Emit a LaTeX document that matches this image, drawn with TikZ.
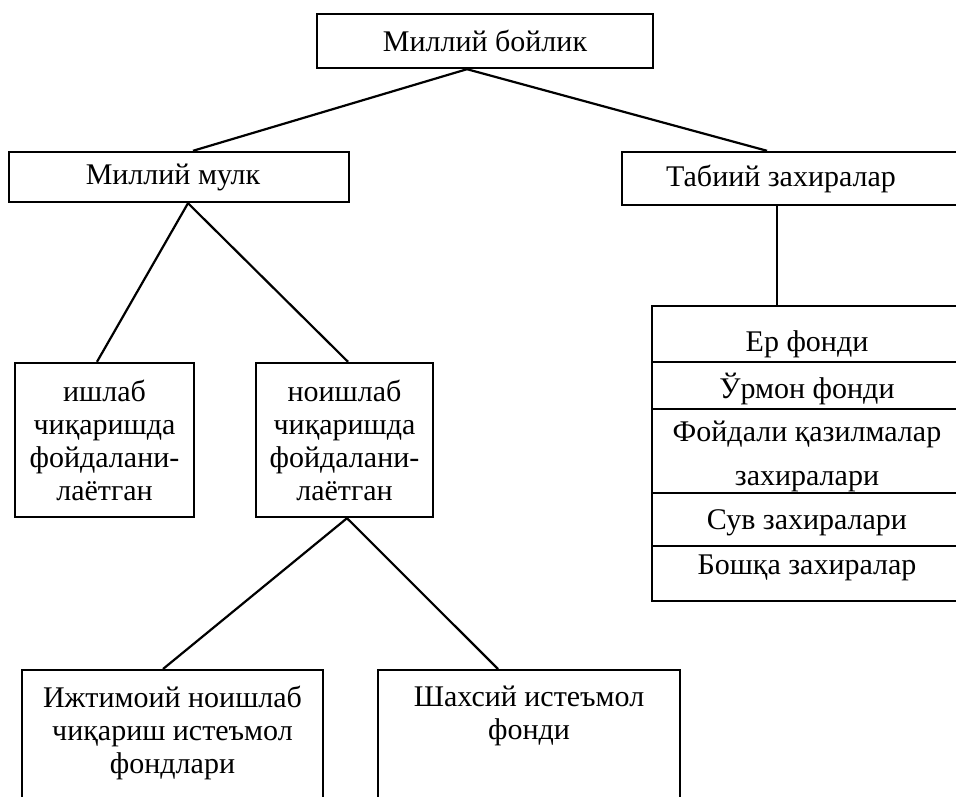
\documentclass[tikz,border=0pt]{standalone}
\usepackage{fontspec}
\setmainfont{Liberation Serif}
\newcommand{\boxfont}{\fontsize{15}{16.5}\selectfont}

\begin{document}
\begin{tikzpicture}[x=0.5pt,y=-0.5pt,
  box/.style={draw, line width=1.2pt, align=center, inner sep=0pt, font=\boxfont},
  link/.style={line width=1.1pt}]
\useasboundingbox (0,0) rectangle (956,796);
\clip (0,0) rectangle (956,796);
%% upper levels
\node[box, minimum width=168pt, minimum height=27pt] (bojlik) at (485,41) {Миллий бойлик};
\node[box, minimum width=170pt, minimum height=25pt] (mulk) at (179,177) {Миллий мулк\hspace*{6pt}};
\node[box, minimum width=172pt, minimum height=26.5pt] (tabiij) at (794,178.5) {Табиий захиралар\hspace*{13pt}};
%% production / non-production property
\node[box, minimum width=89.5pt, minimum height=77pt] (ishlab) at (104.5,440) {ишлаб\\чиқаришда\\фойдалани-\\лаётган};
\node[box, minimum width=88.5pt, minimum height=77pt] (noishlab) at (344.5,440) {ноишлаб\\чиқаришда\\фойдалани-\\лаётган};
%% consumption funds (cut by the page edge)
\node[box, anchor=north, inner xsep=6pt, inner ysep=8pt] (ijtimoij) at (172.5,669) {\parbox[t][90pt][t]{138.5pt}{\centering Ижтимоий ноишлаб\\чиқариш истеъмол\\фондлари}};
\node[box, anchor=north, inner xsep=6pt, inner ysep=8pt] (shaxsij) at (529,669) {\parbox[t][90pt][t]{139pt}{\centering Шахсий истеъмол\\фонди}};
%% table of natural resources
\foreach \i/\top/\h/\dy/\txt in {1/305/28/-5/{Ер фонди},
    2/361/23.5/-1.75/{Ўрмон фонди},
    3/408/42/-2.5/{Фойдали қазилмалар\\[5.5pt]захиралари},
    4/492/26.5/-1.75/{Сув захиралари},
    5/545/27.5/3/{Бошқа захиралар}} {
  \node[box, minimum width=155pt, minimum height=\h pt, anchor=north] (row\i) at (807,\top) {};
  \node[font=\boxfont, align=center] (txt\i) at ([yshift=\dy pt]row\i.center) {\txt};
}
%% connectors
\draw[link] ([xshift=-9pt]bojlik.south) -- ([xshift=7pt]mulk.north);
\draw[link] ([xshift=-9pt]bojlik.south) -- ([xshift=-13.5pt]tabiij.north);
\draw[link] ([xshift=4.5pt]mulk.south) -- ([xshift=-3.75pt]ishlab.north);
\draw[link] ([xshift=4.5pt]mulk.south) -- ([xshift=1.75pt]noishlab.north);
\draw[link] ([xshift=1.25pt]noishlab.south) -- ([xshift=-4.75pt]ijtimoij.north);
\draw[link] ([xshift=1.25pt]noishlab.south) -- ([xshift=-15.5pt]shaxsij.north);
\draw[link] ([xshift=-8.5pt]tabiij.south) -- ([xshift=-8.5pt]tabiij.south |- row1.north);
\end{tikzpicture}
\end{document}
